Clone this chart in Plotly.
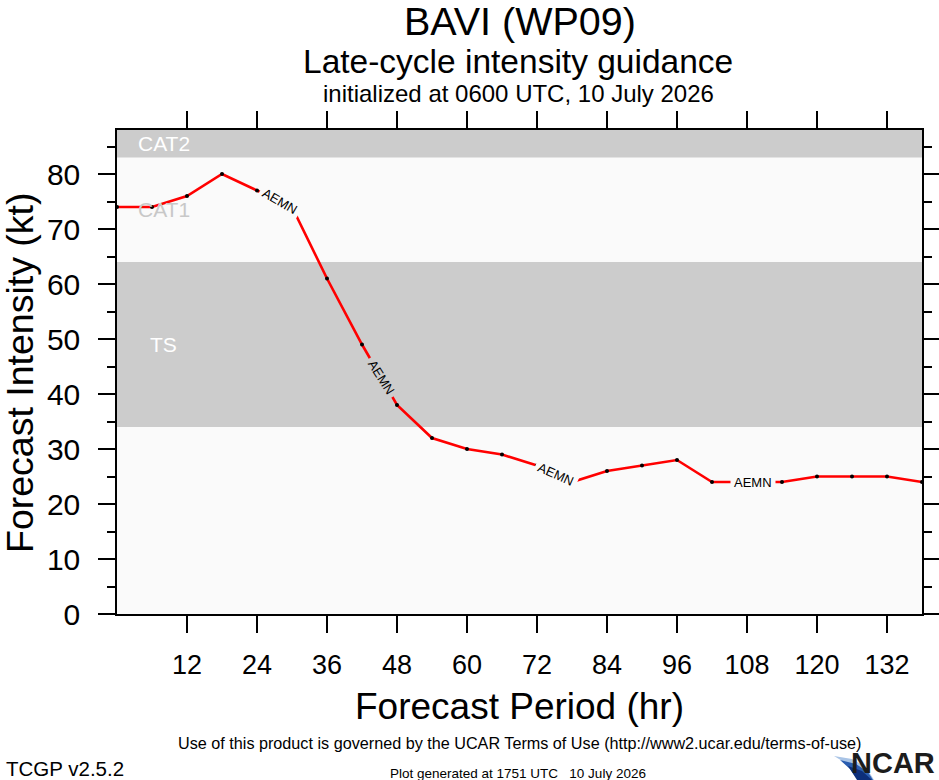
import numpy as np
import plotly.graph_objects as go

# forecast hours and AEMN intensity (kt)
hours = [0, 6, 12, 18, 24, 30, 36, 42, 48, 54, 60, 66, 72, 78, 84, 90, 96,
         102, 108, 114, 120, 126, 132, 138]
aemn = [74, 74, 76, 80, 77, 74, 61, 49, 38, 32, 30, 29, 27, 24, 26, 27, 28,
        24, 24, 24, 25, 25, 25, 24]

# intensity category bands
band_names = ["TS", "CAT1", "CAT2"]
band_low = [34, 64, 83]
band_high = [64, 83, 88]
band_fill = ["#cccccc", "#fafafa", "#cccccc"]
band_text = ["#ffffff", "#c8c8c8", "#ffffff"]

# where the model name is written along the line
label_hours = [28.0, 45.3, 75.3, 109.0]
label_angles = [30, 58, 24, 0]
label_bg = ["#fafafa", "#cccccc", "#fafafa", "#fafafa"]

x_ticks = list(range(12, 133, 12))

FONT = "Liberation Sans, Arial, Helvetica, sans-serif"
NARROW = "Liberation Sans Narrow, Arial Narrow, Liberation Sans, Arial, sans-serif"

W, H = 939, 780
L, R, T, B = 117, 17, 130, 166


def px(x):
    return (x - L) / (W - L - R)


def py(y):
    return (H - B - y) / (H - T - B)


def text_at(x, y, text, size, color="black", family=FONT, xanchor="center",
            yanchor="middle", angle=0):
    fig.add_annotation(x=px(x), y=py(y), xref="paper", yref="paper", text=text,
                       showarrow=False, xanchor=xanchor, yanchor=yanchor,
                       textangle=angle,
                       font=dict(family=family, size=size, color=color))


fig = go.Figure()

fig.add_trace(go.Scatter(
    x=hours, y=aemn, mode="lines+markers",
    line=dict(color="#ff0000", width=2.6),
    marker=dict(color="black", size=4),
    showlegend=False, hoverinfo="x+y"))

# bands
for name, lo, hi, fill, tcol in zip(band_names, band_low, band_high, band_fill, band_text):
    fig.add_shape(type="rect", xref="paper", yref="y", x0=0, x1=1, y0=lo, y1=hi,
                  fillcolor=fill, line=dict(width=0), layer="below")
    fig.add_annotation(x=8, y=(lo + hi) / 2, xref="x", yref="y", text=name,
                       showarrow=False, xanchor="center", yanchor="middle",
                       font=dict(family=FONT, size=21, color=tcol))

# line labels (background hides the line underneath, like the gaps in NCL)
label_vals = np.interp(label_hours, hours, aemn)
for h, v, ang, bg in zip(label_hours, label_vals, label_angles, label_bg):
    fig.add_annotation(x=h, y=v, xref="x", yref="y", text="AEMN", showarrow=False,
                       xanchor="center", yanchor="middle",
                       textangle=ang, bgcolor=bg, borderpad=3,
                       font=dict(family=FONT, size=13, color="black"))

# titles
text_at(520, 21, "BAVI (WP09)", 39.5)
text_at(518, 61, "Late-cycle intensity guidance", 33.5)
text_at(518, 93, "initialized at 0600 UTC, 10 July 2026", 24)

# axis titles
text_at(519, 706, "Forecast Period (hr)", 37)
text_at(20, 373, "Forecast Intensity (kt)", 37.5, angle=-90)

# footer
text_at(519, 743, "Use of this product is governed by the UCAR Terms of Use "
                  "(http://www2.ucar.edu/terms-of-use)", 16.2)
text_at(4, 768, "TCGP v2.5.2", 20.5, xanchor="left")
text_at(518, 773, "Plot generated at 1751 UTC\u00a0\u00a0\u00a010 July 2026", 13.5)


# NCAR logo
def path(points):
    s = "M %f,%f " % (px(points[0][0]), py(points[0][1]))
    for p in points[1:]:
        s += "L %f,%f " % (px(p[0]), py(p[1]))
    return s + "Z"


fig.add_shape(type="path", xref="paper", yref="paper", line=dict(width=0),
              fillcolor="#a9c4e6",
              path=path([(834, 756), (852, 759), (866, 767), (874, 780), (862, 780),
                         (854, 770), (844, 762)]))
fig.add_shape(type="path", xref="paper", yref="paper", line=dict(width=0),
              fillcolor="#2a5db0",
              path=path([(840, 760), (856, 764), (868, 772), (873, 780), (858, 780),
                         (850, 769)]))
fig.add_shape(type="path", xref="paper", yref="paper", line=dict(width=0),
              fillcolor="#0d2f7a",
              path=path([(848, 766), (862, 771), (872, 780), (857, 780)]))
text_at(937, 781, "<b>NCAR</b>", 29, color="#1c1c1c", family=NARROW,
        xanchor="right", yanchor="bottom")

fig.update_xaxes(range=[0, 138], tickvals=x_ticks, ticks="outside", ticklen=17,
                 tickwidth=1.5, tickcolor="black", showline=True, linecolor="black",
                 linewidth=1.5, mirror="ticks", showgrid=False, zeroline=False,
                 automargin=False, ticklabelstandoff=9,
                 tickfont=dict(family=FONT, size=27, color="black"))
fig.update_yaxes(range=[0, 88], tick0=0, dtick=10, ticks="outside", ticklen=17,
                 tickwidth=1.5, tickcolor="black", showline=True, linecolor="black",
                 linewidth=1.5, mirror="ticks", showgrid=False, zeroline=False,
                 minor=dict(dtick=5, ticks="outside", ticklen=8, tickwidth=1.5,
                            tickcolor="black", showgrid=False),
                 automargin=False, ticklabelstandoff=12,
                 tickfont=dict(family=FONT, size=30, color="black"))

fig.update_layout(width=W, height=H, autosize=False,
                  margin=dict(l=L, r=R, t=T, b=B),
                  paper_bgcolor="white", plot_bgcolor="#fafafa",
                  showlegend=False)

# no page margin or scrollbars, so the figure sits at the window's corner
fig.write_html("out.html", config={"displayModeBar": False},
               post_script="document.body.style.margin='0px';"
                           "document.documentElement.style.overflow='hidden';"
                           "document.body.style.overflow='hidden';")
